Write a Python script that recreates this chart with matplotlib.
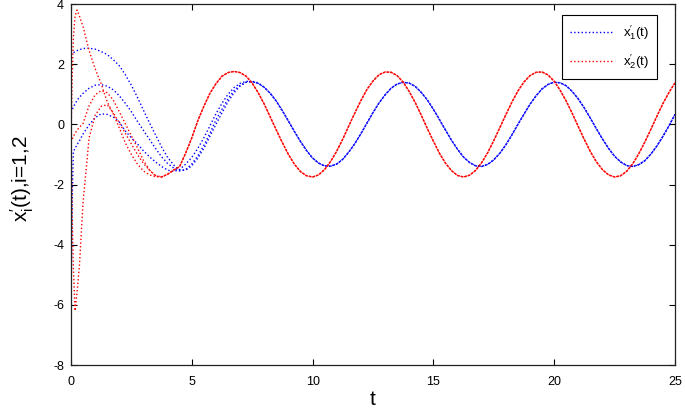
import matplotlib
matplotlib.use("Agg")
import matplotlib.pyplot as plt
import numpy as np

plt.rcParams['font.family'] = ['Liberation Sans', 'DejaVu Sans']
plt.rcParams['mathtext.fontset'] = 'cm'
plt.rcParams['mathtext.default'] = 'regular'
plt.rcParams['axes.unicode_minus'] = False

# transient part
T_START = [0, 0.05, 0.1, 0.17, 0.25, 0.35, 0.5, 0.75, 1.0, 1.25, 1.5, 1.75,
           2.0, 2.25, 2.5, 2.75, 3.0, 3.25, 3.5, 3.75, 4.0, 4.25, 4.5, 4.75,
           5.0, 5.25, 5.5, 5.75, 6.0, 6.25, 6.5, 6.75, 7.0, 7.25, 7.5, 7.75]

blue_1 = [2.3, 2.35, 2.38, 2.42, 2.45, 2.48, 2.52, 2.53, 2.5, 2.42, 2.32, 2.15,
          1.95, 1.65, 1.3, 0.9, 0.47, 0.05, -0.35, -0.75, -1.1, -1.35, -1.52, -1.52,
          -1.38, -1.12, -0.8, -0.4, 0.0, 0.38, 0.75, 1.05, 1.27, 1.4, 1.43, 1.38]
blue_2 = [0.4, 0.48, 0.58, 0.68, 0.8, 0.9, 1.03, 1.2, 1.3, 1.32, 1.27, 1.15,
          0.95, 0.7, 0.42, 0.1, -0.2, -0.5, -0.8, -1.08, -1.3, -1.45, -1.55, -1.5,
          -1.32, -1.05, -0.7, -0.3, 0.15, 0.5, 0.85, 1.12, 1.3, 1.4, 1.42, 1.36]
blue_3 = [-6.0, -2.5, -0.9, -0.8, -0.68, -0.55, -0.32, -0.02, 0.22, 0.35, 0.33, 0.24,
          0.08, -0.22, -0.45, -0.65, -0.88, -1.08, -1.25, -1.4, -1.52, -1.57, -1.5, -1.32,
          -1.1, -0.8, -0.45, -0.05, 0.35, 0.7, 1.0, 1.22, 1.36, 1.43, 1.42, 1.36]

red_1 = [-0.5, 1.5, 2.9, 3.6, 3.8, 3.6, 3.25, 2.45, 1.85, 1.35, 0.75, 0.35,
         -0.12, -0.62, -1.0, -1.32, -1.55, -1.68, -1.74, -1.75, -1.66, -1.52, -1.4, -0.95,
         -0.45, 0.12, 0.6, 1.03, 1.35, 1.6, 1.72, 1.76, 1.72, 1.6, 1.37, 1.05]
red_2 = [-0.6, -0.5, -0.4, -0.3, -0.2, -0.1, 0.03, 0.62, 0.98, 1.12, 1.05, 0.81,
         0.42, 0.02, -0.38, -0.78, -1.2, -1.52, -1.72, -1.75, -1.66, -1.52, -1.4, -0.95,
         -0.45, 0.12, 0.6, 1.03, 1.35, 1.6, 1.72, 1.76, 1.72, 1.6, 1.37, 1.05]
red_3 = [0.0, -3.0, -4.8, -6.2, -5.6, -4.7, -2.6, -0.45, 0.3, 0.6, 0.65, 0.38,
         0.05, -0.3, -0.65, -1.0, -1.3, -1.52, -1.7, -1.75, -1.66, -1.52, -1.4, -0.95,
         -0.45, 0.12, 0.6, 1.03, 1.35, 1.6, 1.72, 1.76, 1.72, 1.6, 1.37, 1.05]

# settled oscillation, shared by the curves of one colour
T_END = [8.0, 8.25, 8.5, 8.75, 9.0, 9.25, 9.5, 9.75, 10.0, 10.25, 10.5, 10.75,
         11.0, 11.25, 11.5, 11.75, 12.0, 12.25, 12.5, 12.75, 13.0, 13.25, 13.5, 13.75,
         14.0, 14.25, 14.5, 14.75, 15.0, 15.25, 15.5, 15.75, 16.0, 16.25, 16.5, 16.75,
         17.0, 17.25, 17.5, 17.75, 18.0, 18.25, 18.5, 18.75, 19.0, 19.25, 19.5, 19.75,
         20.0, 20.25, 20.5, 20.75, 21.0, 21.25, 21.5, 21.75, 22.0, 22.25, 22.5, 22.75,
         23.0, 23.25, 23.5, 23.75, 24.0, 24.25, 24.5, 24.75, 25.0]
blue_end = [1.23, 1.03, 0.77, 0.45, 0.11, -0.24, -0.57, -0.87, -1.12, -1.29, -1.38, -1.39,
            -1.32, -1.16, -0.92, -0.64, -0.31, 0.04, 0.39, 0.71, 0.98, 1.2, 1.34, 1.4,
            1.37, 1.26, 1.06, 0.81, 0.5, 0.16, -0.19, -0.53, -0.83, -1.09, -1.27, -1.38,
            -1.4, -1.33, -1.18, -0.96, -0.68, -0.35, 0.0, 0.34, 0.67, 0.95, 1.18, 1.33,
            1.4, 1.38, 1.28, 1.09, 0.84, 0.54, 0.2, -0.15, -0.49, -0.8, -1.06, -1.25,
            -1.37, -1.4, -1.34, -1.21, -0.99, -0.72, -0.4, -0.05, 0.33]
red_end = [0.67, 0.24, -0.19, -0.61, -1.0, -1.33, -1.57, -1.71, -1.75, -1.68, -1.5, -1.23,
           -0.89, -0.49, -0.05, 0.38, 0.79, 1.16, 1.44, 1.65, 1.74, 1.73, 1.62, 1.4,
           1.09, 0.72, 0.3, -0.14, -0.56, -0.96, -1.29, -1.54, -1.7, -1.75, -1.69, -1.53,
           -1.27, -0.94, -0.54, -0.11, 0.32, 0.74, 1.11, 1.41, 1.62, 1.73, 1.74, 1.64,
           1.43, 1.13, 0.77, 0.36, -0.08, -0.51, -0.91, -1.25, -1.51, -1.68, -1.75, -1.71,
           -1.56, -1.31, -0.98, -0.59, -0.17, 0.27, 0.69, 1.06, 1.38]

fig = plt.figure(figsize=(6.85, 4.13), dpi=100)
ax = fig.add_axes([0.1036, 0.1162, 0.8818, 0.8741])

t_all = T_START + T_END
for i, b in enumerate([blue_1, blue_2, blue_3]):
    ax.plot(t_all, b + blue_end, ':', color='blue', lw=1.0,
            label=r"$x^{\prime}_1$(t)" if i == 0 else None)
for i, r in enumerate([red_1, red_2, red_3]):
    ax.plot(t_all, r + red_end, ':', color='red', lw=1.0,
            label=r"$x^{\prime}_2$(t)" if i == 0 else None)

ax.set_xlim(0, 25)
ax.set_ylim(-8, 4)
ax.set_xticks(np.arange(0, 26, 5))
ax.set_yticks(np.arange(-8, 5, 2))
ax.tick_params(direction='in', top=True, right=True, length=4.5, labelsize=9)
ax.tick_params(axis='x', pad=8)
ax.tick_params(axis='y', pad=5)
for s in ax.spines.values():
    s.set_linewidth(0.9)
    s.set_color('#222222')

ax.set_xlabel('t', fontsize=15, labelpad=1)
ax.set_ylabel(r"$x^{\prime}_i$(t),i=1,2", fontsize=15)
ax.yaxis.set_label_coords(-0.058, 0.515)

leg = ax.legend(loc='upper right', bbox_to_anchor=(0.970, 0.9695), borderaxespad=0,
                fontsize=9.5, fancybox=False, framealpha=1, edgecolor='black',
                handlelength=3.2, labelspacing=0.8, borderpad=0.6)
leg.get_frame().set_linewidth(0.8)

fig.savefig('out.png', dpi=100)
